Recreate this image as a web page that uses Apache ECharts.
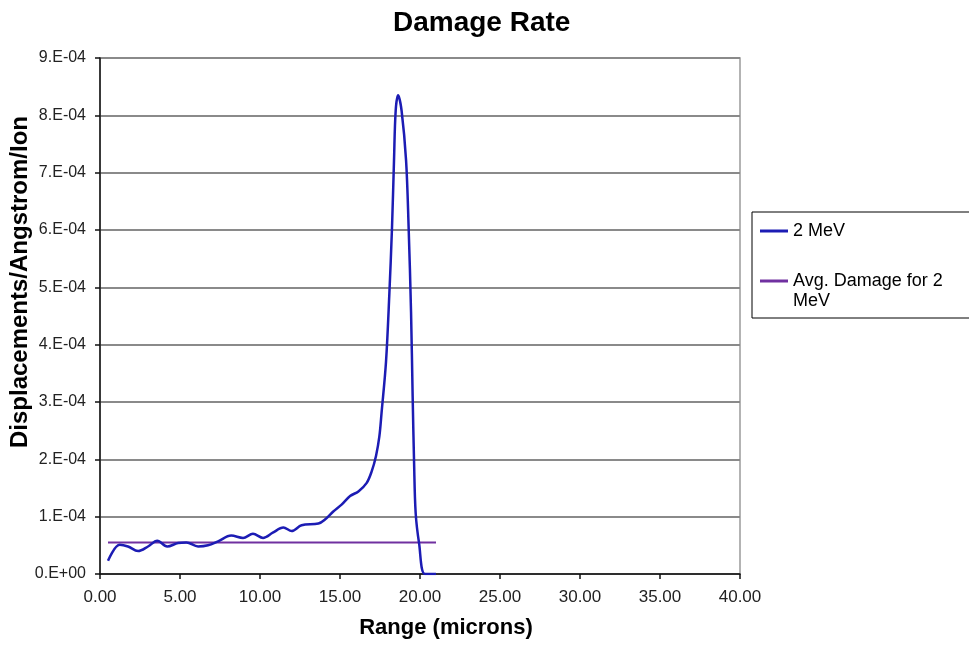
<!DOCTYPE html>
<html>
<head>
<meta charset="utf-8">
<script src="https://cdn.jsdelivr.net/npm/echarts@6/dist/echarts.min.js"></script>
<style>
html,body{margin:0;padding:0;background:#fff;}
#chart{width:969px;height:647px;}
</style>
</head>
<body>
<div id="chart"></div>
<script>
// Range (microns)
const rangeMicrons = [0.5, 1.23, 1.75, 2.38, 3.0, 3.58, 4.2, 4.88, 5.4, 6.13, 6.75, 7.38, 8.2, 8.94, 9.56, 10.19, 10.8, 11.46, 11.98, 12.6, 13.65, 14.06, 14.58, 15.1, 15.63, 16.15, 16.67, 16.98, 17.25, 17.46, 17.6, 17.875, 18.08, 18.25, 18.375, 18.48, 18.63, 18.85, 19.13, 19.29, 19.44, 19.54, 19.63, 19.73, 19.94, 20.31, 21.0];
// Displacements/Angstrom/Ion for 2 MeV
const damage2MeV = [0.23e-4, 0.51e-4, 0.48e-4, 0.40e-4, 0.48e-4, 0.58e-4, 0.48e-4, 0.54e-4, 0.55e-4, 0.48e-4, 0.50e-4, 0.57e-4, 0.67e-4, 0.63e-4, 0.70e-4, 0.63e-4, 0.72e-4, 0.81e-4, 0.75e-4, 0.85e-4, 0.88e-4, 0.95e-4, 1.09e-4, 1.21e-4, 1.36e-4, 1.44e-4, 1.59e-4, 1.79e-4, 2.06e-4, 2.40e-4, 2.82e-4, 3.70e-4, 4.86e-4, 6.04e-4, 7.21e-4, 8.08e-4, 8.35e-4, 8.08e-4, 7.21e-4, 6.04e-4, 4.57e-4, 3.11e-4, 1.94e-4, 1.06e-4, 0.54e-4, 0.0, 0.0];
// Average damage line
const avgRange = [0.5, 21.0];
const avgDamage = [0.55e-4, 0.55e-4];

const seriesNames = ['2 MeV', 'Avg. Damage for 2 MeV'];
const xTickLabels = ['0.00','5.00','10.00','15.00','20.00','25.00','30.00','35.00','40.00'];

const chart = echarts.init(document.getElementById('chart'), null, {renderer: 'canvas'});
const font = 'Liberation Sans, Arial, Helvetica, sans-serif';

const option = {
  backgroundColor: '#fff',
  animation: false,
  title: {
    text: 'Damage Rate',
    left: 388,
    top: 4,
    textStyle: {fontFamily: font, fontSize: 28, fontWeight: 'bold', color: '#000'}
  },
  legend: {
    orient: 'vertical',
    left: 752,
    top: 212,
    padding: [9, 27, 7, 8],
    itemGap: 10,
    itemWidth: 28,
    itemHeight: 3,
    icon: 'rect',
    borderColor: '#000',
    borderWidth: 1,
    borderRadius: 0,
    backgroundColor: '#fff',
    textStyle: {fontFamily: font, fontSize: 18, color: '#000', lineHeight: 20},
    formatter: function (name) {
      return name === seriesNames[1] ? '\nAvg. Damage for 2\nMeV' : name;
    },
    data: [seriesNames[0], seriesNames[1]]
  },
  grid: {
    left: 100, right: 229, top: 58, bottom: 73,
    containLabel: false,
    outerBoundsMode: 'none',
    show: true, borderColor: '#9a9a9a', borderWidth: 1.5, backgroundColor: '#fff'
  },
  xAxis: {
    type: 'value',
    min: 0, max: 40, interval: 5,
    name: 'Range (microns)',
    nameLocation: 'middle',
    nameGap: 43,
    nameMoveOverlap: false,
    nameTextStyle: {fontFamily: font, fontSize: 22, fontWeight: 'bold', color: '#000', padding: [0, 0, 0, 52]},
    axisLine: {show: true, onZero: false, lineStyle: {color: '#111', width: 1.5}},
    axisTick: {show: true, inside: false, length: 5, lineStyle: {color: '#111', width: 1.5}},
    axisLabel: {
      margin: 15,
      fontFamily: font, fontSize: 17, color: '#222',
      formatter: function (v) { return xTickLabels[Math.round(v / 5)]; }
    },
    splitLine: {show: false}
  },
  yAxis: {
    type: 'value',
    min: 0, max: 9e-4, interval: 1e-4,
    name: 'Displacements/Angstrom/Ion',
    nameLocation: 'middle',
    nameRotate: 90,
    nameGap: 68,
    nameMoveOverlap: false,
    nameTextStyle: {fontFamily: font, fontSize: 24, fontWeight: 'bold', color: '#000', padding: [0, 0, 0, 68]},
    axisLine: {show: true, onZero: false, lineStyle: {color: '#111', width: 1.5}},
    axisTick: {show: true, inside: false, length: 5, lineStyle: {color: '#111', width: 1.5}},
    axisLabel: {
      margin: 14,
      fontFamily: font, fontSize: 16, color: '#222',
      formatter: function (v) {
        const n = Math.round(v * 1e4);
        return n === 0 ? '0.E+00' : n + '.E-04';
      }
    },
    splitLine: {show: true, lineStyle: {color: '#8a8a8a', width: 2}}
  },
  series: [
    {
      name: seriesNames[0],
      type: 'line',
      data: rangeMicrons.map((x, i) => [x, damage2MeV[i]]),
      smooth: 0.35,
      symbol: 'none',
      lineStyle: {color: '#1c1cb4', width: 2.5},
      itemStyle: {color: '#1c1cb4'},
      z: 3
    },
    {
      name: seriesNames[1],
      type: 'line',
      data: avgRange.map((x, i) => [x, avgDamage[i]]),
      symbol: 'none',
      lineStyle: {color: '#7030a0', width: 2},
      itemStyle: {color: '#7030a0'},
      z: 2
    }
  ]
};
chart.setOption(option);
</script>
</body>
</html>
